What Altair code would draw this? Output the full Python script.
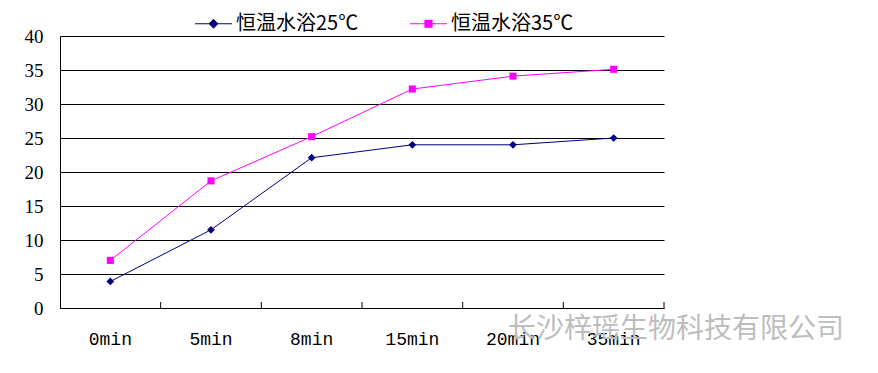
import altair as alt
import pandas as pd

categories = ["0min", "5min", "8min", "15min", "20min", "35min"]
series_names = ["恒温水浴25℃", "恒温水浴35℃"]
values_25 = [3.9, 11.5, 22.1, 24.0, 24.0, 25.0]
values_35 = [7.0, 18.7, 25.2, 32.2, 34.1, 35.1]
colors = ["#000080", "#FF00FF"]
shapes = ["diamond", "square"]
sizes = [60, 50]
y_ticks = [0, 5, 10, 15, 20, 25, 30, 35, 40]
watermark = "长沙梓瑶生物科技有限公司"

rows = []
for name, vals in zip(series_names, [values_25, values_35]):
    for c, v in zip(categories, vals):
        rows.append({"time": c, "series": name, "value": v})
df = pd.DataFrame(rows)
cat_df = pd.DataFrame({"time": categories})

xscale = alt.Scale(type="band", domain=categories, paddingInner=0, paddingOuter=0)
yscale = alt.Scale(domain=[0, 40])
cscale = alt.Scale(domain=series_names, range=colors)

legend_paths = [
    "M-1,0L1,0M0,-0.22L0.22,0L0,0.22L-0.22,0Z",
    "M-1,0L1,0M-0.19,-0.19L0.19,-0.19L0.19,0.19L-0.19,0.19Z",
]

x_enc = alt.X(
    "time:N", sort=categories, scale=xscale, bandPosition=0.5,
    axis=alt.Axis(title=None, labelAngle=0, ticks=False, domainColor="black",
                  labelFont="Liberation Mono", labelFontSize=18, labelColor="black",
                  labelPadding=22),
)
y_enc = alt.Y(
    "value:Q", scale=yscale,
    axis=alt.Axis(title=None, values=y_ticks, grid=True, gridColor="black", gridOpacity=1,
                  gridWidth=1, ticks=False, domainColor="black", labelFont="Liberation Serif",
                  labelFontSize=19, labelColor="black", labelPadding=17),
)

legend_obj = alt.Legend(
    title=None, orient="none", direction="horizontal", legendX=134, legendY=-32,
    padding=0, symbolSize=1369, symbolStrokeWidth=1.2, symbolOpacity=1,
    labelFont="Noto Sans CJK SC", labelFontSize=20, labelColor="black",
    labelOffset=3, columnPadding=48,
)

series_layers = []
for name, col, shp, sz in zip(series_names, colors, shapes, sizes):
    base = alt.Chart(df).transform_filter(alt.datum.series == name)
    series_layers.append(base.mark_line(strokeWidth=1, color=col).encode(x=x_enc, y=y_enc))
    series_layers.append(
        base.mark_point(filled=True, opacity=1, shape=shp, size=sz, color=col)
        .encode(x=x_enc, y=y_enc)
    )

# legend-only layer: its marks sit outside the clipped plot area
legend_layer = alt.Chart(df).transform_calculate(value="-1000").mark_point(
    filled=True, clip=True, opacity=1
).encode(
    x=x_enc, y=y_enc,
    fill=alt.Fill("series:N", scale=cscale, legend=legend_obj),
    stroke=alt.Stroke("series:N", scale=cscale, legend=legend_obj),
    shape=alt.Shape("series:N", scale=alt.Scale(domain=series_names, range=legend_paths),
                    legend=legend_obj),
)
ticks = alt.Chart(cat_df).mark_rule(color="black", strokeWidth=1).encode(
    x=alt.X("time:N", sort=categories, scale=xscale, bandPosition=1),
    y=alt.value(266), y2=alt.value(272),
)

chart = alt.layer(*series_layers, legend_layer, ticks).properties(
    width=604, height=272,
    autosize=alt.AutoSizeParams(type="none"),
    padding={"left": 52, "top": 28, "right": 200, "bottom": 50},
    title=alt.TitleParams(watermark, orient="bottom", anchor="end", frame="group",
                          font="Noto Sans CJK SC", fontSize=28, fontWeight="normal",
                          color="#bdbdbd", dx=180, dy=-36),
).configure_view(stroke=None)

chart.save("out.html", embed_options={"renderer": "svg", "actions": False})
